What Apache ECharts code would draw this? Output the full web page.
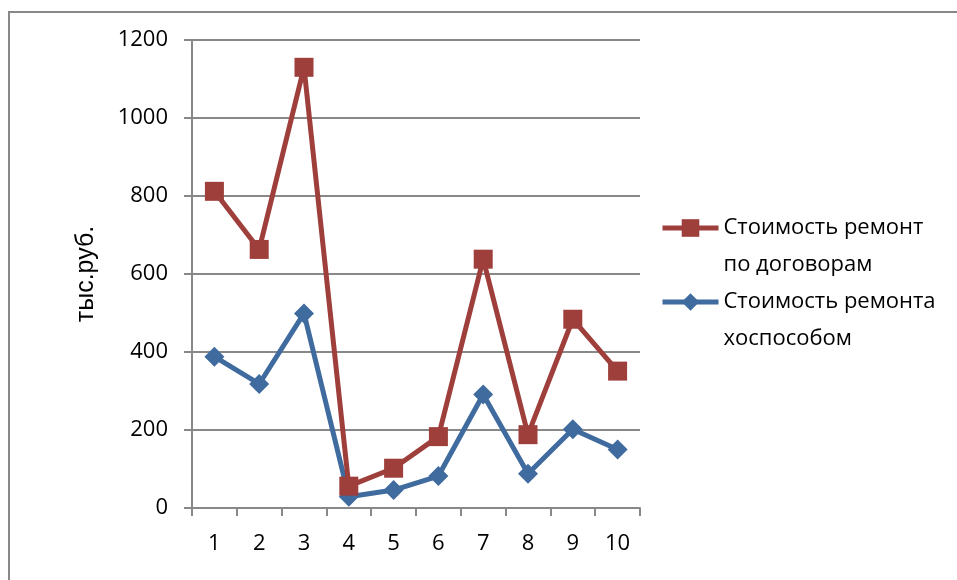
<!DOCTYPE html>
<html>
<head>
<meta charset="utf-8">
<script src="https://cdn.jsdelivr.net/npm/echarts@6/dist/echarts.min.js"></script>
<style>
  html, body { margin: 0; padding: 0; background: #fff; }
  #chart { width: 957px; height: 580px; }
</style>
</head>
<body>
<div id="chart"></div>
<script>
// Categories along the x axis
const categories = ['1', '2', '3', '4', '5', '6', '7', '8', '9', '10'];
// Cost of repairs carried out under contracts, thousand rubles
const contractCost = [812, 663, 1130, 56, 102, 183, 638, 188, 484, 351];
// Cost of repairs done in-house, thousand rubles
const inHouseCost = [388, 318, 499, 29, 46, 82, 291, 88, 202, 150];
// Value axis ticks
const yTicks = [0, 200, 400, 600, 800, 1000, 1200];

const nameContract = 'Стоимость ремонт\nпо договорам';
const nameInHouse = 'Стоимость ремонта\nхоспособом';

const RED = '#9e3f3c';
const BLUE = '#3f6b9e';
const GRAY = '#888888';
const FONT = 'Open Sans';

const chart = echarts.init(document.getElementById('chart'), null, { renderer: 'canvas' });

// A leading empty line keeps the first text line level with the legend icon
const legendBase = {
  orient: 'vertical',
  left: 660,
  padding: 0,
  itemWidth: 56,
  itemHeight: 22,
  itemGap: 0,
  formatter: name => '\n' + name,
  lineStyle: { width: 5 },
  textStyle: { fontFamily: FONT, fontSize: 22, color: '#000', lineHeight: 37 }
};

chart.setOption({
  animation: false,
  backgroundColor: '#fff',
  graphic: [{
    type: 'rect',
    shape: { x: 9, y: 12, width: 1000, height: 600 },
    style: { fill: 'none', stroke: GRAY, lineWidth: 2 },
    silent: true
  }],
  grid: { left: 192, top: 40, right: 317, bottom: 72 },
  legend: [
    Object.assign({}, legendBase, { data: [nameContract], top: 228 - 55.5 }),
    Object.assign({}, legendBase, { data: [nameInHouse], top: 302 - 55.5 })
  ],
  xAxis: {
    type: 'category',
    data: categories,
    boundaryGap: true,
    axisLine: { lineStyle: { color: GRAY, width: 2 } },
    axisTick: { show: true, interval: 0, length: 8, lineStyle: { color: GRAY, width: 2 } },
    axisLabel: { color: '#000', fontFamily: FONT, fontSize: 22, margin: 25, interval: 0 },
    splitLine: { show: false }
  },
  yAxis: {
    type: 'value',
    min: yTicks[0],
    max: yTicks[yTicks.length - 1],
    interval: yTicks[1] - yTicks[0],
    name: 'тыс.руб.',
    nameLocation: 'middle',
    nameRotate: 90,
    nameGap: 93,
    nameTextStyle: { fontFamily: 'Liberation Sans', fontSize: 25, color: '#000' },
    axisLine: { show: true, lineStyle: { color: GRAY, width: 2 } },
    axisTick: { show: true, length: 8, lineStyle: { color: GRAY, width: 2 } },
    axisLabel: { color: '#000', fontFamily: FONT, fontSize: 22, margin: 24, formatter: v => String(v) },
    splitLine: { show: true, lineStyle: { color: GRAY, width: 2 } }
  },
  series: [{
    name: nameInHouse,
    type: 'line',
    data: inHouseCost,
    symbol: 'diamond',
    symbolSize: 20,
    lineStyle: { color: BLUE, width: 5 },
    itemStyle: { color: BLUE },
    z: 2
  }, {
    name: nameContract,
    type: 'line',
    data: contractCost,
    symbol: 'rect',
    symbolSize: 19,
    lineStyle: { color: RED, width: 5 },
    itemStyle: { color: RED },
    z: 3
  }]
});
</script>
</body>
</html>
